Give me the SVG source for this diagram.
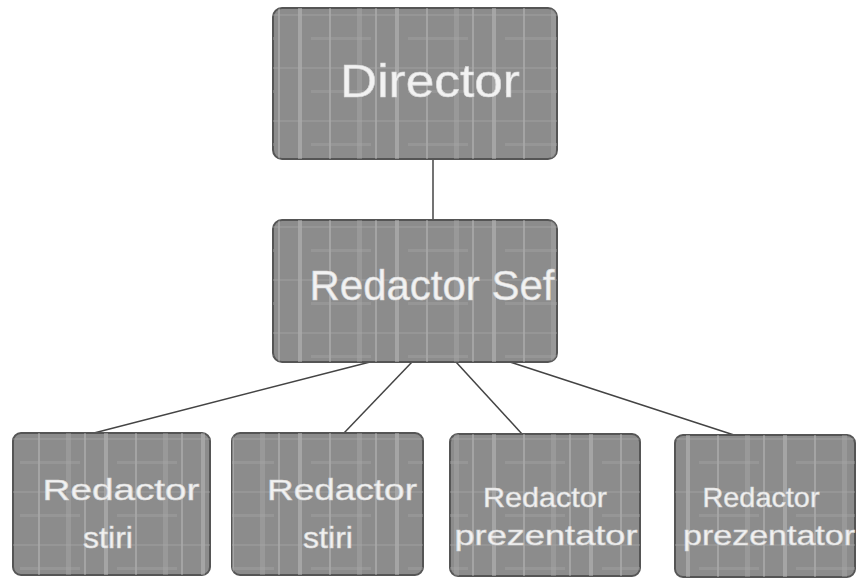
<svg xmlns="http://www.w3.org/2000/svg" width="859" height="588" viewBox="0 0 859 588">
<style>
.box{fill:#8c8c8c;stroke:#555;stroke-width:2}
.t{fill:#f2f2f2;font-family:"Liberation Sans",Arial,sans-serif;text-anchor:middle;stroke:#d8d8d8;stroke-width:0.6}
.c{stroke:#444;stroke-width:1.5;fill:none}
</style>
<defs>
<pattern id="tex" width="97" height="53" patternUnits="userSpaceOnUse">
<rect x="7" y="0" width="4" height="53" fill="#bdbdbd" opacity="0.5"/>
<rect x="38" y="0" width="2" height="53" fill="#c8c8c8" opacity="0.4"/>
<rect x="66" y="0" width="5" height="53" fill="#b0b0b0" opacity="0.35"/>
<rect x="84" y="0" width="2" height="53" fill="#d0d0d0" opacity="0.35"/>
<rect x="0" y="14" width="97" height="2" fill="#a8a8a8" opacity="0.35"/>
<rect x="20" y="37" width="60" height="3" fill="#a4a4a4" opacity="0.4"/>
</pattern>
</defs>
<rect width="859" height="588" fill="#fff"/>
<g id="connectors">
<line class="c" x1="433" y1="159" x2="433" y2="221"/>
<line class="c" x1="370" y1="362" x2="94" y2="433"/>
<line class="c" x1="412" y1="362" x2="344" y2="433"/>
<line class="c" x1="456" y1="362" x2="522" y2="434"/>
<line class="c" x1="510" y1="362" x2="734" y2="435"/>
</g>
<g id="director">
<rect class="box" x="273" y="8" width="284" height="151" rx="9"/>
<rect x="273" y="8" width="284" height="151" rx="9" fill="url(#tex)"/>
<text class="t" x="430" y="97" font-size="47" textLength="180" lengthAdjust="spacingAndGlyphs">Director</text>
</g>
<g id="redactor-sef">
<rect class="box" x="273" y="220" width="284" height="142" rx="9"/>
<rect x="273" y="220" width="284" height="142" rx="9" fill="url(#tex)"/>
<text class="t" x="432" y="300" font-size="42" textLength="245" lengthAdjust="spacingAndGlyphs">Redactor Sef</text>
</g>
<g id="redactor-stiri-1">
<rect class="box" x="13" y="433" width="197" height="142" rx="8"/>
<rect x="13" y="433" width="197" height="142" rx="8" fill="url(#tex)"/>
<text class="t" x="121" y="500" font-size="30" textLength="157" lengthAdjust="spacingAndGlyphs">Redactor</text>
<text class="t" x="108" y="548" font-size="30" textLength="50" lengthAdjust="spacingAndGlyphs">stiri</text>
</g>
<g id="redactor-stiri-2">
<rect class="box" x="232" y="433" width="191" height="142" rx="8"/>
<rect x="232" y="433" width="191" height="142" rx="8" fill="url(#tex)"/>
<text class="t" x="342" y="500" font-size="30" textLength="150" lengthAdjust="spacingAndGlyphs">Redactor</text>
<text class="t" x="328" y="548" font-size="30" textLength="50" lengthAdjust="spacingAndGlyphs">stiri</text>
</g>
<g id="redactor-prezentator-1">
<rect class="box" x="450" y="434" width="190" height="142" rx="8"/>
<rect x="450" y="434" width="190" height="142" rx="8" fill="url(#tex)"/>
<text class="t" x="545" y="507" font-size="28" textLength="124" lengthAdjust="spacingAndGlyphs">Redactor</text>
<text class="t" x="546" y="545" font-size="28" textLength="183" lengthAdjust="spacingAndGlyphs">prezentator</text>
</g>
<g id="redactor-prezentator-2">
<rect class="box" x="675" y="435" width="180" height="142" rx="8"/>
<rect x="675" y="435" width="180" height="142" rx="8" fill="url(#tex)"/>
<text class="t" x="761" y="507" font-size="28" textLength="117" lengthAdjust="spacingAndGlyphs">Redactor</text>
<text class="t" x="769" y="545" font-size="28" textLength="172" lengthAdjust="spacingAndGlyphs">prezentator</text>
</g>
</svg>
